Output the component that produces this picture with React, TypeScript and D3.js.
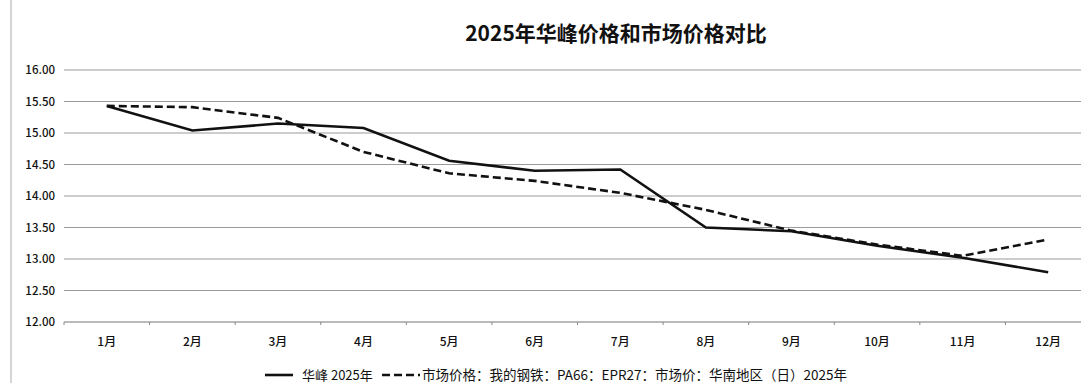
import React from "react";
import * as d3 from "d3";

const months = ["1月", "2月", "3月", "4月", "5月", "6月", "7月", "8月", "9月", "10月", "11月", "12月"];
const huafeng = [15.43, 15.04, 15.15, 15.08, 14.56, 14.40, 14.42, 13.50, 13.44, 13.21, 13.02, 12.79];
const market = [15.43, 15.41, 15.24, 14.70, 14.36, 14.24, 14.05, 13.78, 13.45, 13.23, 13.05, 13.31];
const yTicks = [12, 12.5, 13, 13.5, 14, 14.5, 15, 15.5, 16];
const title = "2025年华峰价格和市场价格对比";
const seriesNames = ["华峰 2025年", "市场价格：我的钢铁：PA66：EPR27：市场价：华南地区（日）2025年"];

const W = 1081;
const H = 383;
const FONT = "'Noto Sans CJK SC', 'Noto Sans', sans-serif";

export default function App() {
  const x = d3.scaleBand<string>().domain(months).range([64, 1091]).padding(0);
  const y = d3.scaleLinear().domain([12, 16]).range([322, 70]);
  const cx = (m: string) => (x(m) as number) + x.bandwidth() / 2;

  const line = d3
    .line<number>()
    .x((_, i) => cx(months[i]))
    .y((d) => y(d));

  return (
    <svg
      width={W}
      height={H}
      style={{ position: "absolute", left: 0, top: 0, background: "#fff" }}
      fontFamily={FONT}
    >
      <rect x={0} y={0} width={W} height={H} fill="#fff" />
      <line x1={11} x2={11} y1={0} y2={H} stroke="#aaa" strokeWidth={1} />
      <text x={616} y={41} textAnchor="middle" fontSize={21} fontWeight="bold" fill="#111">
        {title}
      </text>
      {yTicks.map((t) => (
        <g key={t}>
          <line
            x1={64}
            x2={W}
            y1={y(t)}
            y2={y(t)}
            stroke={t === 12 ? "#777" : "#9a9a9a"}
            strokeWidth={1}
          />
          <text x={55} y={y(t) + 4} textAnchor="end" fontSize={11.5} fontWeight={500} fill="#111">
            {t.toFixed(2)}
          </text>
        </g>
      ))}
      {months.map((m) => (
        <g key={m}>
          <line x1={x(m) as number} x2={x(m) as number} y1={y(12)} y2={y(12) + 3} stroke="#888" />
          <text x={cx(m)} y={346} textAnchor="middle" fontSize={12} fontWeight={500} fill="#111">
            {m}
          </text>
        </g>
      ))}
      <path d={line(market) || ""} fill="none" stroke="#111" strokeWidth={2.6} strokeDasharray="8,4" />
      <path d={line(huafeng) || ""} fill="none" stroke="#111" strokeWidth={2.6} />
      <g>
        <line x1={265} x2={293} y1={375} y2={375} stroke="#111" strokeWidth={2.6} />
        <text x={302} y={380} fontSize={13} fill="#111">
          {seriesNames[0]}
        </text>
        <line x1={382} x2={420} y1={375} y2={375} stroke="#111" strokeWidth={2.6} strokeDasharray="8,4" />
        <text x={422} y={380} fontSize={13.5} fill="#111">
          {seriesNames[1]}
        </text>
      </g>
    </svg>
  );
}
